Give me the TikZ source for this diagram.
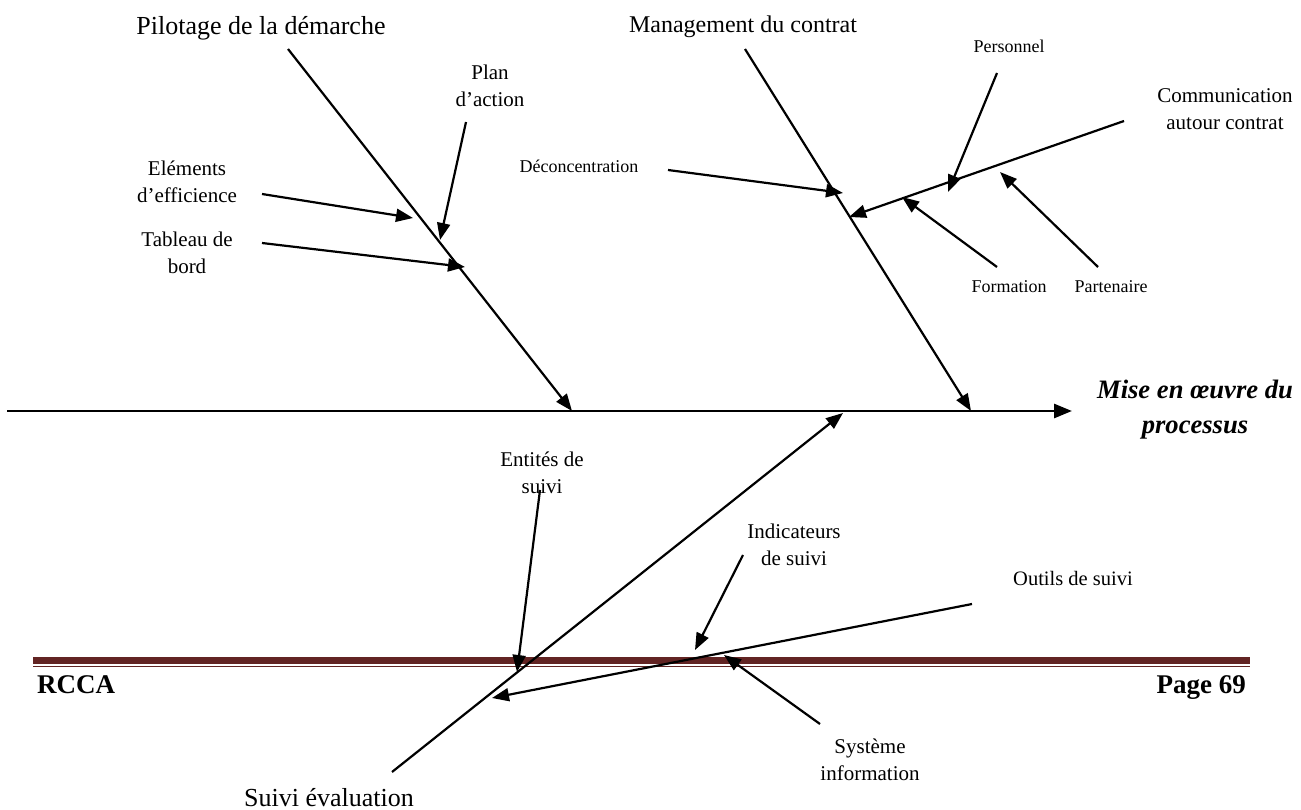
\documentclass[tikz,border=0pt]{standalone}
\usepackage{fontspec}
\setmainfont{Liberation Serif}
\usetikzlibrary{arrows.meta}
\definecolor{barred}{HTML}{622423}
\newcommand{\twol}[2]{\begin{tabular}[t]{@{}c@{}}#1\\#2\end{tabular}}
\begin{document}
\begin{tikzpicture}[x=1pt,y=-1pt,
  txt/.style={inner sep=0pt, anchor=base},
  title/.style={txt, font=\fontsize{26}{31}\selectfont},
  lab/.style={txt, font=\fontsize{21}{27}\selectfont},
  slab/.style={txt, font=\fontsize{18}{22}\selectfont},
  foot/.style={inner sep=0pt, font=\fontsize{27}{32}\selectfont\bfseries},
  bone/.style={line width=2.2pt, -{Triangle[length=17pt,width=13pt]}},
  spine/.style={line width=2.8pt, -{Triangle[length=18pt,width=14pt]}}]
\fill[white] (0,0) rectangle (1301,810);
\useasboundingbox (0,0) rectangle (1301,810);
% footer bar
\fill[barred] (33,657) rectangle (1250,664);
\fill[barred] (33,665.5) rectangle (1250,667);
\node[foot, anchor=base west] (rcca) at (37,693) {RCCA};
\node[foot, anchor=base east] (page) at (1246,693) {Page 69};
% titles
\node[title] (pil) at (261,35) {Pilotage de la démarche};
\node[title, font=\fontsize{24}{29}\selectfont] (man) at (743,33) {Management du contrat};
\node[title] (suiv) at (329,806) {Suivi évaluation};
\node[txt, font=\fontsize{26.6}{35}\selectfont\bfseries\itshape] (eff) at (1195,398) {\twol{Mise en œuvre du}{processus}};
% labels
\node[lab] (plan) at (490,80) {\twol{Plan}{d’action}};
\node[lab] (elem) at (187,176) {\twol{Eléments}{d’efficience}};
\node[lab] (tab) at (187,247) {\twol{Tableau de}{bord}};
\node[lab] (comm) at (1225,103) {\twol{Communication}{autour contrat}};
\node[lab] (ent) at (542,466) {\twol{Entités de}{suivi}};
\node[lab] (ind) at (794,538) {\twol{Indicateurs}{de suivi}};
\node[lab] (sys) at (870,753) {\twol{Système}{information}};
\node[lab, font=\fontsize{20.5}{25}\selectfont] (out) at (1073,585) {Outils de suivi};
\node[slab] (dec) at (579,173) {Déconcentration};
\node[slab] (pers) at (1009,53) {Personnel};
\node[slab] (form) at (1009,293) {Formation};
\node[slab] (part) at (1111,293) {Partenaire};
% coordinates
\coordinate (s0) at (7,411);
\coordinate (s1) at (1072,411);
\coordinate (p0) at (288,49);
\coordinate (p1) at (572,411);
\coordinate (m0) at (745,49);
\coordinate (m1) at (971,411);
\coordinate (v0) at (392,772);
\coordinate (v1) at (843,413);
\coordinate (e0) at (262,194);
\coordinate (e1) at (413,218);
\coordinate (a0) at (466,122);
\coordinate (a1) at (440,240);
\coordinate (t0) at (262,243);
\coordinate (t1) at (465,267);
\coordinate (d0) at (668,170);
\coordinate (d1) at (843,193);
\coordinate (c0) at (1124,121);
\coordinate (c1) at (849,217);
\coordinate (r0) at (997,73);
\coordinate (r1) at (948,192);
\coordinate (f0) at (997,267);
\coordinate (f1) at (902,197);
\coordinate (q0) at (1098,267);
\coordinate (q1) at (1000,172);
\coordinate (n0) at (540,490);
\coordinate (n1) at (517,672);
\coordinate (i0) at (743,555);
\coordinate (i1) at (695,650);
\coordinate (o0) at (972,604);
\coordinate (o1) at (492,698);
\coordinate (y0) at (820,724);
\coordinate (y1) at (724,655);
% connectors
\draw[spine] (s0) -- (s1);
\draw[bone] (p0) -- (p1);
\draw[bone] (m0) -- (m1);
\draw[bone] (v0) -- (v1);
\draw[bone] (e0) -- (e1);
\draw[bone] (a0) -- (a1);
\draw[bone] (t0) -- (t1);
\draw[bone] (d0) -- (d1);
\draw[bone] (c0) -- (c1);
\draw[bone] (r0) -- (r1);
\draw[bone] (f0) -- (f1);
\draw[bone] (q0) -- (q1);
\draw[bone] (n0) -- (n1);
\draw[bone] (i0) -- (i1);
\draw[bone] (o0) -- (o1);
\draw[bone] (y0) -- (y1);
\end{tikzpicture}
\end{document}
